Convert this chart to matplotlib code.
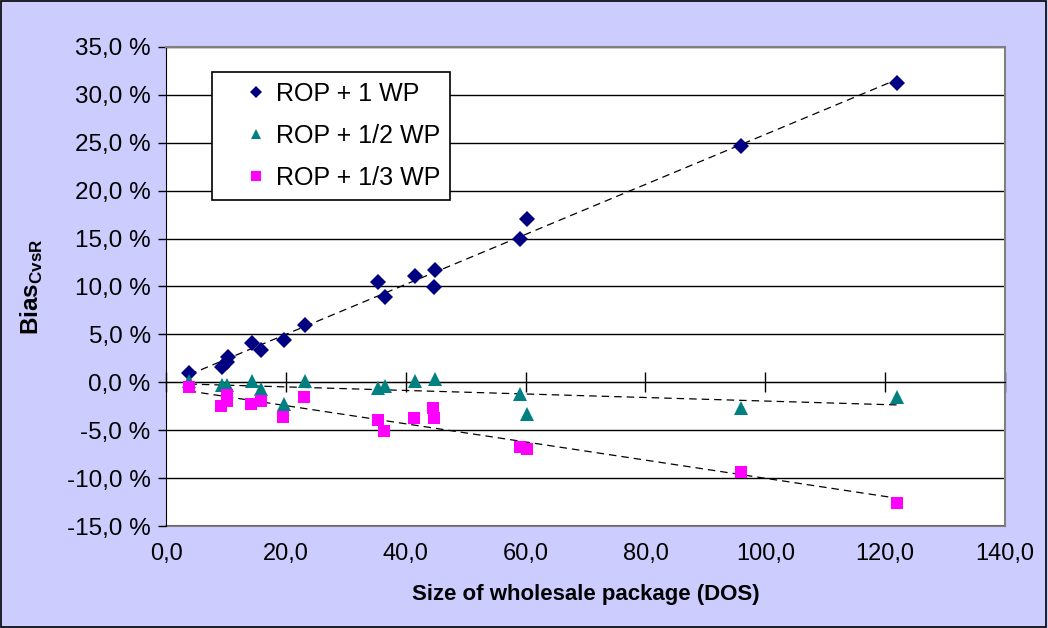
import numpy as np
import matplotlib
matplotlib.use("Agg")
import matplotlib.pyplot as plt
from matplotlib.ticker import FuncFormatter, MultipleLocator

plt.rcParams['font.family'] = ['Liberation Sans', 'DejaVu Sans']
plt.rcParams['mathtext.fontset'] = 'custom'
plt.rcParams['mathtext.bf'] = 'Liberation Sans:bold'
plt.rcParams['mathtext.rm'] = 'Liberation Sans'

# ---- data ----
x_1wp = [3.9, 9.3, 10.2, 10.3, 14.4, 15.9, 19.7, 23.2, 35.4, 36.5, 41.5, 44.9, 44.7, 60.2, 59.1, 96.0, 122.0]
y_1wp = [1.0, 1.6, 2.1, 2.6, 4.1, 3.4, 4.4, 6.0, 10.5, 8.9, 11.1, 11.7, 9.9, 17.0, 15.0, 24.7, 31.2]

x_half = [3.9, 9.3, 10.2, 14.4, 15.9, 19.7, 23.2, 35.4, 36.5, 41.5, 44.9, 59.1, 60.2, 96.0, 122.0]
y_half = [0.1, -0.3, -0.3, 0.1, -0.7, -2.3, 0.1, -0.6, -0.4, 0.1, 0.3, -1.2, -3.3, -2.7, -1.5]

x_third = [3.8, 9.2, 10.2, 10.2, 14.2, 15.8, 19.6, 23.1, 35.4, 36.3, 41.4, 44.6, 44.8, 59.0, 60.2, 96.0, 122.0]
y_third = [-0.5, -2.5, -1.3, -1.9, -2.3, -1.9, -3.6, -1.5, -3.9, -5.1, -3.7, -2.7, -3.7, -6.8, -7.0, -9.4, -12.6]

series = [
    ("ROP + 1 WP", x_1wp, y_1wp, "D", "#000080", 8),
    ("ROP + 1/2 WP", x_half, y_half, "^", "#008080", 10),
    ("ROP + 1/3 WP", x_third, y_third, "s", "#FF00FF", 9),
]

fig = plt.figure(figsize=(10.48, 6.28), dpi=100, facecolor="#CCCCFF")
ax = fig.add_axes([0.1584, 0.1624, 0.8006, 0.7628])
ax.set_facecolor("white")

for label, xs, ys, mk, col, ms in series:
    ax.plot(xs, ys, linestyle="none", marker=mk, color=col, markersize=ms,
            markeredgewidth=0, label=label, zorder=3)
    # linear trend line
    k, b = np.polyfit(xs, ys, 1)
    xt = np.array([min(xs), max(xs)])
    ax.plot(xt, k * xt + b, linestyle=(0, (6, 4)), color="black", linewidth=0.9, zorder=2)

ax.set_xlim(0, 140)
ax.set_ylim(-15, 35)
ax.yaxis.set_major_locator(MultipleLocator(5))
ax.xaxis.set_major_locator(MultipleLocator(20))
ax.yaxis.set_major_formatter(FuncFormatter(lambda v, p: f"{v:.1f}".replace(".", ",") + " %"))
ax.grid(axis="y", color="black", linewidth=1.0, zorder=1)
ax.set_axisbelow(True)

# x axis crosses at zero, labels stay at the bottom
ax.spines["bottom"].set_position(("data", 0))
ax.spines["bottom"].set_color("black")
ax.tick_params(axis="x", direction="inout", length=14, width=1, labelbottom=False)
ax.tick_params(axis="y", direction="out", length=6, width=1, labelsize=17.5, pad=5)
for s in ["top", "right"]:
    ax.spines[s].set_color("#808080")
    ax.spines[s].set_linewidth(1.5)
ax.spines["left"].set_color("black")

sec = ax.secondary_xaxis(0)
sec.xaxis.set_major_locator(MultipleLocator(20))
sec.xaxis.set_major_formatter(FuncFormatter(lambda v, p: f"{v:.1f}".replace(".", ",")))
sec.tick_params(axis="x", length=0, labelsize=17, pad=12)
sec.spines["bottom"].set_color("#808080")
sec.spines["bottom"].set_linewidth(1.5)

sec.set_xlabel("Size of wholesale package (DOS)", fontsize=16, fontweight="bold", labelpad=14)
ax.set_ylabel(r"Bias$_{\mathbf{CvsR}}$", fontsize=17.5, fontweight="bold", labelpad=16)

leg = ax.legend(loc="upper left", bbox_to_anchor=(0.0548, 0.948), borderaxespad=0,
                fontsize=18, frameon=True, fancybox=False, edgecolor="black",
                framealpha=1, handletextpad=-0.55, markerscale=0.75, handlelength=2.7,
                labelspacing=0.72, borderpad=0.4)
leg.get_frame().set_linewidth(1.2)
leg.set_zorder(5)

# outer border
fig.patches.append(plt.Rectangle((0.001, 0.001), 0.997, 0.997, transform=fig.transFigure,
                                 fill=False, edgecolor="black", linewidth=1.2))

fig.savefig("out.png", dpi=100, facecolor=fig.get_facecolor())
